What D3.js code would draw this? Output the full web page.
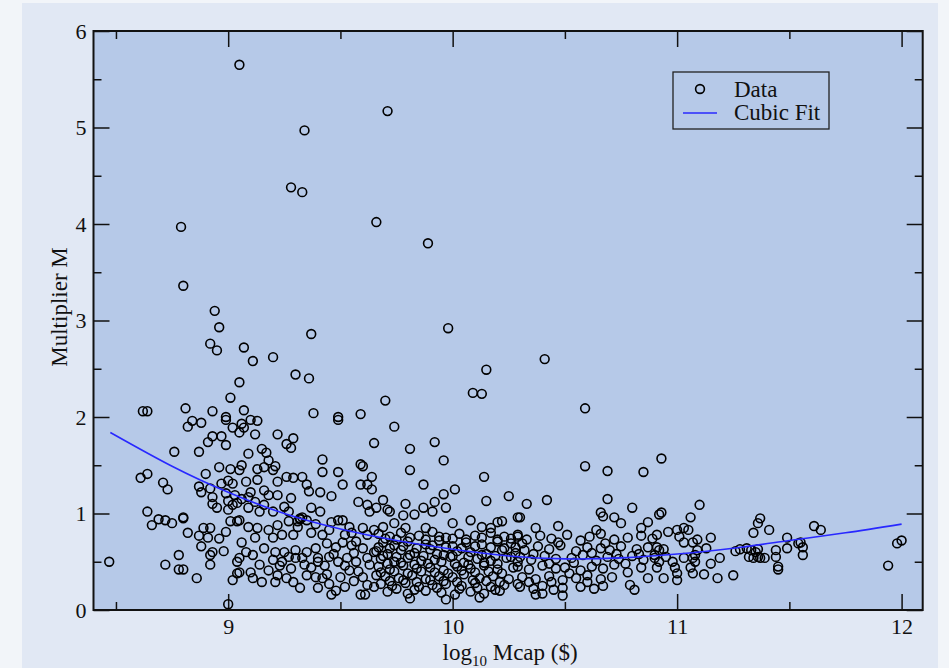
<!DOCTYPE html>
<html>
<head>
<meta charset="utf-8">
<script src="https://cdn.jsdelivr.net/npm/d3@7"></script>
<style>
body{margin:0;background:#f2f5f9;}
svg{display:block;}
text{font-family:"Liberation Serif","Times New Roman",serif;fill:#111;}
</style>
</head>
<body>
<svg id="chart" width="949" height="668"></svg>
<script>
// data: [log10 Mcap, multiplier M]
var outliers=[[9.05,5.65],[9.71,5.17],[9.34,4.97],[9.28,4.38],[9.33,4.33],[8.79,3.97],[9.66,4.02],[9.89,3.80],[8.80,3.36],[8.94,3.10],[8.96,2.93],[9.98,2.92],[9.37,2.86],[8.92,2.76],[8.95,2.69],[9.07,2.72],[9.11,2.58],[9.20,2.62],[9.30,2.44],[9.36,2.40],[10.41,2.60],[10.15,2.49],[9.05,2.36],[10.09,2.25],[10.13,2.24],[10.59,2.09],[9.70,2.17]];

var left=[[8.62,2.06],[8.64,2.06],[8.81,2.09],[8.93,2.06],[9.01,2.20],[8.99,2.00],[8.99,1.97],[8.84,1.96],[8.88,1.94],[8.82,1.90],[9.02,1.89],[8.93,1.80],[8.97,1.80],[8.91,1.74],[8.99,1.71],[8.76,1.64],[8.87,1.64],[8.61,1.37],[8.64,1.41],[8.71,1.32],[8.73,1.25],[8.96,1.48],[9.01,1.46],[8.90,1.41],[8.87,1.28],[8.88,1.22],[8.92,1.26],[8.93,1.17],[8.93,1.10],[8.95,1.06],[8.97,1.31],[9.00,1.34],[9.02,1.31],[8.99,1.21],[9.00,1.13],[9.03,1.19],[9.00,1.04],[9.02,1.09],[8.64,1.02],[8.66,0.88],[8.69,0.94],[8.72,0.93],[8.75,0.90],[8.80,0.95],[8.80,0.96],[8.82,0.80],[8.89,0.85],[8.92,0.85],[8.87,0.77],[8.91,0.75],[8.88,0.66],[8.96,0.74],[8.99,0.81],[9.01,0.92],[9.04,0.92],[8.93,0.60],[8.92,0.57],[8.98,0.61],[9.04,0.50],[8.47,0.50],[8.72,0.47],[8.78,0.57],[8.78,0.42],[8.80,0.42],[8.92,0.47],[8.86,0.33],[9.02,0.31],[9.04,0.38],[9.00,0.06]];

var midLeft=[[9.07,2.07],[9.10,1.97],[9.13,1.96],[9.06,1.93],[9.07,1.89],[9.05,1.84],[9.12,1.82],[9.38,2.04],[9.49,2.00],[9.49,1.97],[9.59,2.03],[9.22,1.82],[9.29,1.78],[9.26,1.72],[9.28,1.68],[9.65,1.73],[9.15,1.67],[9.17,1.63],[9.09,1.62],[9.18,1.55],[9.21,1.49],[9.20,1.45],[9.16,1.48],[9.42,1.56],[9.59,1.51],[9.60,1.49],[9.06,1.50],[9.05,1.45],[9.13,1.46],[9.42,1.43],[9.49,1.43],[9.64,1.38],[9.59,1.30],[9.62,1.30],[9.64,1.25],[9.26,1.38],[9.29,1.37],[9.33,1.38],[9.13,1.35],[9.08,1.33],[9.22,1.33],[9.35,1.30],[9.36,1.23],[9.41,1.22],[9.46,1.18],[9.51,1.30],[9.10,1.22],[9.09,1.17],[9.16,1.24],[9.18,1.19],[9.22,1.19],[9.28,1.16],[9.12,1.12],[9.06,1.15],[9.04,1.11],[9.25,1.07],[9.27,1.02],[9.37,1.06],[9.41,1.02],[9.58,1.12],[9.62,1.09],[9.63,1.02],[9.66,1.06],[9.16,1.09],[9.20,1.02],[9.14,1.02],[9.09,1.06],[9.05,0.93],[9.09,0.86],[9.32,0.95],[9.35,0.93],[9.31,0.86],[9.32,0.94],[9.33,0.96],[9.31,0.92],[9.46,0.91],[9.49,0.93],[9.51,0.93],[9.54,0.86],[9.52,0.78],[9.60,0.85],[9.62,0.78],[9.65,0.83],[9.13,0.85],[9.18,0.83],[9.22,0.88],[9.24,0.78],[9.20,0.75],[9.12,0.75],[9.06,0.70],[9.08,0.60],[9.29,0.78],[9.37,0.80],[9.42,0.78],[9.44,0.69],[9.48,0.65],[9.51,0.70],[9.55,0.67],[9.39,0.64],[9.35,0.60],[9.30,0.62],[9.25,0.60],[9.21,0.60],[9.16,0.64],[9.11,0.57],[9.05,0.54],[9.14,0.47],[9.20,0.52],[9.24,0.50],[9.30,0.54],[9.33,0.54],[9.40,0.54],[9.40,0.50],[9.45,0.55],[9.49,0.50],[9.53,0.54],[9.57,0.50],[9.62,0.54],[9.63,0.47],[9.65,0.60],[9.05,0.39],[9.10,0.39],[9.18,0.41],[9.22,0.36],[9.26,0.33],[9.29,0.29],[9.32,0.23],[9.37,0.44],[9.39,0.34],[9.42,0.33],[9.45,0.27],[9.46,0.16],[9.50,0.34],[9.54,0.41],[9.60,0.34],[9.62,0.26],[9.59,0.16],[9.61,0.16],[9.65,0.24],[9.66,0.36],[9.11,0.33],[9.15,0.29],[9.21,0.29],
[9.23,0.46],[9.27,0.55],[9.34,0.47],[9.43,0.46],[9.47,0.58],[9.52,0.46],[9.56,0.59],[9.58,0.40],[9.44,0.37],[9.35,0.36],[9.28,0.43],[9.52,0.24],[9.56,0.30],[9.48,0.20],[9.40,0.23],[9.57,0.71],[9.60,0.64],[9.45,0.83],[9.39,0.89],[9.27,0.92],[9.55,0.80]];

var middle=[[9.74,1.90],[9.92,1.74],[9.81,1.67],[9.96,1.55],[9.81,1.45],[10.14,1.38],[9.87,1.30],[10.01,1.25],[9.96,1.20],[10.25,1.18],[10.15,1.13],[9.69,1.14],[9.79,1.10],[9.92,1.12],[9.71,1.04],[9.72,1.02],[9.87,1.06],[9.97,1.06],[9.83,0.99],[9.78,0.98],[9.91,1.02],[10.08,0.93],[10.20,0.91],[10.22,0.92],[10.17,0.85],[10.29,0.96],[10.00,0.90],[9.88,0.85],[9.74,0.90],[9.69,0.86],[9.79,0.85],[10.13,0.86],
[9.67,0.79],[9.72,0.76],[9.77,0.80],[9.85,0.77],[9.91,0.81],[9.97,0.75],[10.03,0.79],[10.10,0.77],[10.17,0.80],[10.23,0.76],[10.29,0.78],
[9.69,0.70],[9.74,0.67],[9.80,0.71],[9.88,0.68],[9.94,0.72],[10.00,0.66],[10.06,0.70],[10.13,0.68],[10.20,0.71],[10.26,0.69],
[9.66,0.61],[9.71,0.58],[9.77,0.62],[9.83,0.59],[9.90,0.63],[9.96,0.57],[10.02,0.61],[10.08,0.60],[10.15,0.58],[10.22,0.62],[10.28,0.59],
[9.68,0.53],[9.74,0.50],[9.80,0.54],[9.86,0.51],[9.92,0.52],[9.99,0.55],[10.05,0.49],[10.11,0.53],[10.17,0.51],[10.24,0.54],[10.29,0.50],
[9.67,0.45],[9.72,0.42],[9.78,0.46],[9.84,0.43],[9.90,0.44],[9.96,0.41],[10.02,0.45],[10.08,0.43],[10.14,0.46],[10.20,0.42],[10.27,0.44],
[9.70,0.35],[9.76,0.33],[9.82,0.36],[9.88,0.32],[9.94,0.35],[10.00,0.34],[10.05,0.37],[10.12,0.33],[10.18,0.35],[10.25,0.32],
[9.68,0.27],[9.73,0.25],[9.79,0.28],[9.85,0.24],[9.91,0.26],[9.97,0.27],[10.04,0.25],[10.10,0.28],[10.17,0.24],[10.23,0.26],[10.29,0.27],
[9.71,0.19],[9.80,0.17],[9.88,0.20],[9.95,0.18],[10.01,0.16],[10.08,0.19],[10.14,0.17],[10.21,0.20],[9.81,0.12],[9.97,0.11],[10.12,0.13]];

var middle2=[[9.70,0.74],[9.75,0.73],[9.81,0.75],[9.88,0.73],[9.94,0.76],[10.00,0.74],[10.06,0.73],[10.13,0.75],[10.20,0.73],[10.26,0.74],
[9.67,0.65],[9.72,0.64],[9.78,0.66],[9.84,0.64],[9.91,0.67],[9.97,0.65],[10.04,0.64],[10.10,0.66],[10.17,0.65],[10.23,0.64],
[9.69,0.56],[9.75,0.55],[9.81,0.57],[9.87,0.56],[9.93,0.58],[10.00,0.56],[10.07,0.55],[10.13,0.57],[10.19,0.56],[10.26,0.55],
[9.71,0.48],[9.77,0.49],[9.83,0.47],[9.89,0.48],[9.95,0.50],[10.01,0.48],[10.07,0.47],[10.14,0.49],[10.20,0.48],
[9.68,0.39],[9.74,0.40],[9.80,0.38],[9.86,0.40],[9.92,0.39],[9.98,0.38],[10.04,0.41],[10.10,0.39],[10.16,0.40],[10.22,0.38],
[9.72,0.30],[9.78,0.31],[9.84,0.29],[9.90,0.31],[9.96,0.30],[10.02,0.29],[10.09,0.31],[10.15,0.30],[10.21,0.29],
[9.75,0.22],[9.83,0.21],[9.93,0.23],[10.03,0.22],[10.11,0.23],[10.19,0.21]];

var midRight=[[10.59,1.49],[10.69,1.44],[10.85,1.43],[10.93,1.57],[10.33,1.10],[10.42,1.14],[10.69,1.15],[10.80,1.06],[10.30,0.96],[10.66,1.01],[10.67,0.97],[10.37,0.85],[10.47,0.87],[10.72,0.96],[10.75,0.90],[10.64,0.83],[10.87,0.91],[10.84,0.85],[10.92,0.99],
[10.29,0.76],[10.33,0.73],[10.39,0.77],[10.44,0.74],[10.51,0.78],[10.57,0.72],[10.61,0.76],[10.66,0.79],[10.72,0.73],[10.78,0.75],[10.84,0.77],[10.89,0.74],
[10.28,0.65],[10.32,0.62],[10.38,0.66],[10.43,0.63],[10.48,0.67],[10.55,0.61],[10.60,0.65],[10.66,0.64],[10.70,0.62],[10.75,0.66],[10.82,0.63],[10.87,0.65],[10.92,0.62],
[10.30,0.55],[10.35,0.52],[10.41,0.56],[10.46,0.53],[10.53,0.54],[10.58,0.57],[10.64,0.51],[10.69,0.55],[10.74,0.53],[10.80,0.56],[10.85,0.52],[10.90,0.54],
[10.29,0.45],[10.34,0.42],[10.40,0.46],[10.46,0.43],[10.50,0.44],[10.57,0.41],[10.62,0.45],[10.67,0.43],[10.72,0.47],[10.78,0.39],[10.84,0.44],[10.87,0.33],
[10.31,0.34],[10.37,0.32],[10.43,0.35],[10.49,0.31],[10.55,0.33],[10.60,0.36],[10.66,0.32],[10.71,0.34],[10.79,0.26],[10.81,0.21],
[10.30,0.24],[10.36,0.22],[10.40,0.25],[10.45,0.21],[10.49,0.23],[10.57,0.24],[10.63,0.22],[10.67,0.25],[10.37,0.16],[10.40,0.17],[10.49,0.15],
[10.31,0.69],[10.36,0.58],[10.43,0.48],[10.52,0.38],[10.47,0.70],[10.54,0.49],[10.62,0.59],[10.68,0.69],[10.73,0.58],[10.77,0.48],[10.83,0.58],[10.60,0.29],[10.34,0.29],[10.44,0.29]];

var right=[[11.10,1.09],[10.93,1.01],[11.06,0.96],[11.37,0.95],[11.36,0.90],[11.41,0.83],[11.34,0.80],[10.96,0.81],[11.00,0.83],[11.03,0.85],[11.05,0.83],[10.91,0.78],[11.01,0.76],[11.15,0.75],[11.07,0.70],[11.09,0.73],[11.03,0.70],[10.91,0.65],[10.94,0.63],[11.13,0.64],[11.09,0.62],[11.08,0.57],[11.49,0.75],[11.49,0.64],[11.44,0.62],[11.26,0.61],[11.28,0.63],[11.31,0.64],[11.33,0.62],[11.35,0.60],[11.36,0.63],[11.32,0.55],[11.34,0.54],[11.36,0.55],[11.37,0.54],[11.39,0.54],[11.44,0.55],[11.19,0.54],[11.03,0.54],[11.07,0.54],[11.08,0.50],[10.95,0.55],[10.90,0.57],[10.92,0.50],[10.91,0.44],[10.98,0.50],[10.99,0.44],[11.00,0.38],[11.00,0.31],[11.06,0.44],[11.07,0.38],[11.15,0.48],[11.12,0.37],[11.18,0.33],[11.25,0.36],[10.94,0.33],[11.45,0.45],[11.45,0.42],[11.54,0.69],
[11.55,0.70],[11.56,0.65],[11.56,0.57],[11.61,0.87],[11.64,0.83],[11.98,0.69],[12.00,0.72],[11.94,0.46]];

// cubic fit, points
var fitX=[8.475,8.75,9.0,9.25,9.5,9.75,10.0,10.25,10.5,10.75,11.0,11.25,11.5,11.75,12.0];
var fitM=[1.84,1.49,1.22,1.00,0.84,0.72,0.63,0.56,0.53,0.54,0.58,0.64,0.72,0.80,0.89];

var xTicks=[9,10,11,12];
var xMinor=[8.5,9.5,10.5,11.5];
var yTicks=[0,1,2,3,4,5,6];
var yMinor=[0.5,1.5,2.5,3.5,4.5,5.5];

var points=outliers.concat(left,midLeft,middle,middle2,midRight,right);

var svg=d3.select('#chart');
var X0=93.5, X1=922.7, Y0=31, Y1=610;
var x=d3.scaleLinear().domain([8.4,12.094]).range([X0,X1]);
var y=d3.scaleLinear().domain([0,6]).range([Y1,Y0]);

// backgrounds
svg.append('rect').attr('x',22).attr('y',3).attr('width',916).attr('height',665).attr('fill','#e1e8f4');
svg.append('rect').attr('x',X0).attr('y',Y0).attr('width',X1-X0).attr('height',Y1-Y0).attr('fill','#b6c9e8');

function axisStyle(g){
	g.select('.domain').remove();
	g.selectAll('line').attr('stroke','#111').attr('stroke-width',1.5);
	g.selectAll('text').attr('font-size',22).attr('font-family','"Liberation Serif","Times New Roman",serif').attr('fill','#111');
}
// bottom
svg.append('g').attr('transform','translate(0,'+Y1+')')
	.call(d3.axisBottom(x).tickValues(xTicks).tickSize(-16).tickPadding(8).tickFormat(d3.format('d'))).call(axisStyle);
svg.append('g').attr('transform','translate(0,'+Y1+')')
	.call(d3.axisBottom(x).tickValues(xMinor).tickSize(-8).tickFormat('')).call(axisStyle);
// top
svg.append('g').attr('transform','translate(0,'+Y0+')')
	.call(d3.axisTop(x).tickValues(xTicks).tickSize(-16).tickFormat('')).call(axisStyle);
svg.append('g').attr('transform','translate(0,'+Y0+')')
	.call(d3.axisTop(x).tickValues(xMinor).tickSize(-8).tickFormat('')).call(axisStyle);
// left
svg.append('g').attr('transform','translate('+X0+',0)')
	.call(d3.axisLeft(y).tickValues(yTicks).tickSize(-16).tickPadding(7).tickFormat(d3.format('d'))).call(axisStyle);
svg.append('g').attr('transform','translate('+X0+',0)')
	.call(d3.axisLeft(y).tickValues(yMinor).tickSize(-8).tickFormat('')).call(axisStyle);
// right
svg.append('g').attr('transform','translate('+X1+',0)')
	.call(d3.axisRight(y).tickValues(yTicks).tickSize(-16).tickFormat('')).call(axisStyle);
svg.append('g').attr('transform','translate('+X1+',0)')
	.call(d3.axisRight(y).tickValues(yMinor).tickSize(-8).tickFormat('')).call(axisStyle);

// data circles
svg.append('g').selectAll('circle').data(points).enter().append('circle')
	.attr('cx',function(d){return x(d[0]);})
	.attr('cy',function(d){return y(d[1]);})
	.attr('r',4.4)
	.attr('fill','none').attr('stroke','#000').attr('stroke-width',1.6);

// fit line
var line=d3.line().x(function(d){return x(d);}).y(function(d,i){return y(fitM[i]);}).curve(d3.curveNatural);
svg.append('path').attr('d',line(fitX)).attr('fill','none').attr('stroke','#2828ff').attr('stroke-width',1.6);

// frame
svg.append('rect').attr('x',X0).attr('y',Y0).attr('width',X1-X0).attr('height',Y1-Y0)
	.attr('fill','none').attr('stroke','#111').attr('stroke-width',2);

// legend
var lg=svg.append('g');
lg.append('rect').attr('x',673).attr('y',72).attr('width',156).attr('height',57)
	.attr('fill','none').attr('stroke','#222').attr('stroke-width',1.3);
lg.append('circle').attr('cx',700).attr('cy',89).attr('r',4.4).attr('fill','none').attr('stroke','#000').attr('stroke-width',1.6);
lg.append('line').attr('x1',683).attr('x2',717).attr('y1',113).attr('y2',113).attr('stroke','#2828ff').attr('stroke-width',1.6);
lg.append('text').attr('x',734).attr('y',97).attr('font-size',23).text('Data');
lg.append('text').attr('x',734).attr('y',120).attr('font-size',23).text('Cubic Fit');

// axis titles
var xt=svg.append('text').attr('x',(X0+X1)/2+2).attr('y',660).attr('font-size',23).attr('text-anchor','middle');
xt.append('tspan').text('log');
xt.append('tspan').attr('font-size',15).attr('dy',6).text('10');
xt.append('tspan').attr('dy',-6).text(' Mcap ($)');
svg.append('text').attr('transform','translate(67,307) rotate(-90)').attr('font-size',23).attr('text-anchor','middle').text('Multiplier M');
</script>
</body>
</html>
